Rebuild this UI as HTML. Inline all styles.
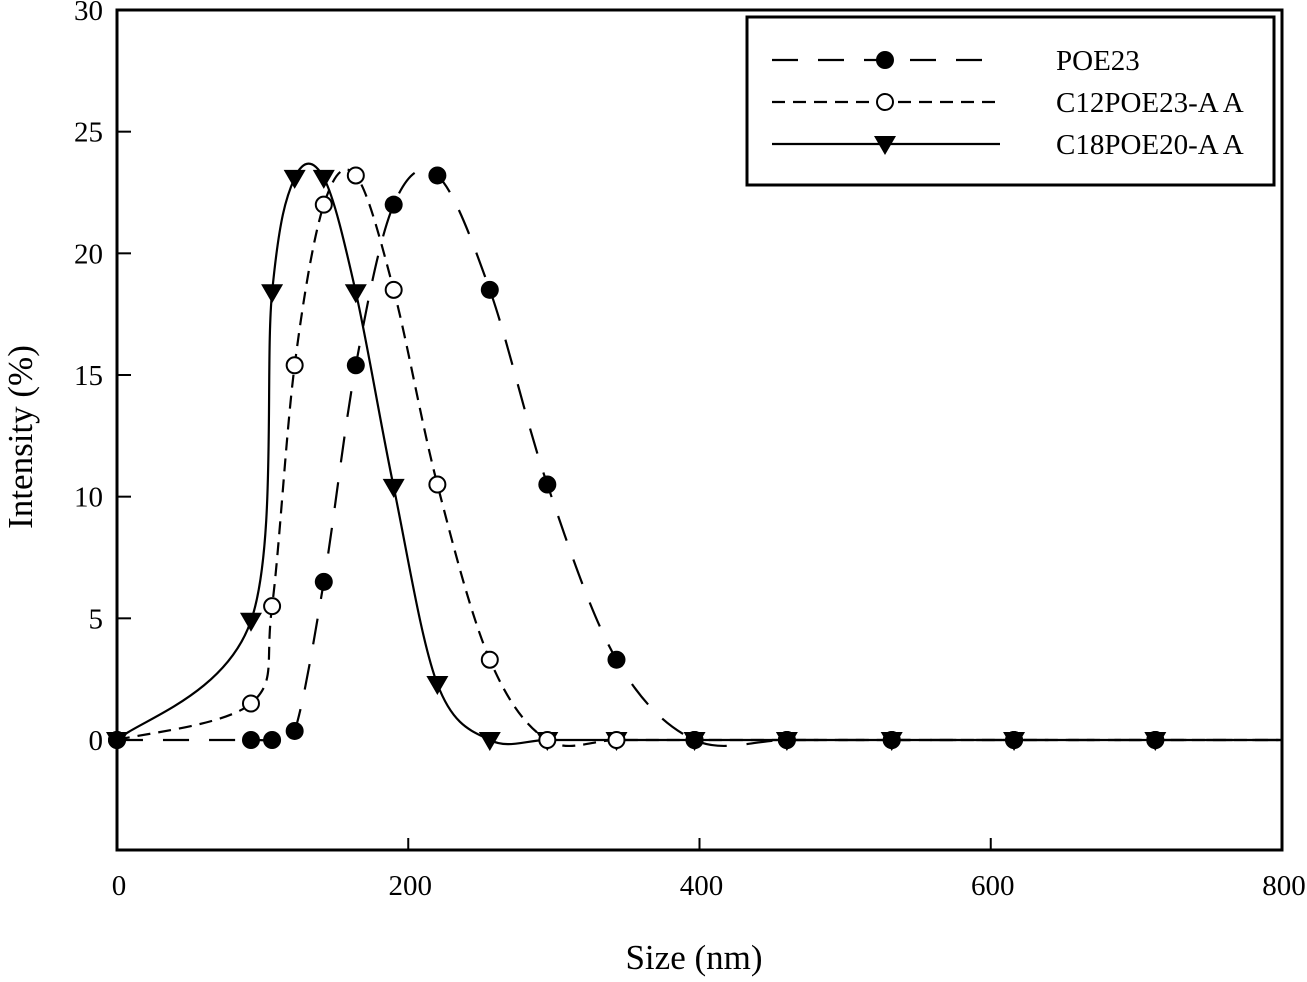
<!DOCTYPE html>
<html><head><meta charset="utf-8"><style>
html,body{margin:0;padding:0;background:#fff;}
svg text{font-family:"Liberation Serif",serif;fill:#000;}
</style></head><body>
<svg id="chart" width="1307" height="977" viewBox="0 0 1307 977"></svg>
<script>
const xTicks=[0,200,400,600,800];
const yTicks=[0,5,10,15,20,25,30];
const sizes=[0,92,106.5,122,142,164,190,220,256,295.5,343,396.6,460,532,616,713];
const poe23=[0,0,0,0.37,6.5,15.4,22.0,23.2,18.5,10.5,3.3,0,0,0,0,0];
const c12=[0,1.5,5.5,15.4,22.0,23.2,18.5,10.5,3.3,0,0,0,0,0,0,0];
const c18=[0,4.9,18.4,23.1,23.1,18.4,10.4,2.3,0,0,0,0,0,0,0,0];
const seriesNames=["POE23","C12POE23-A A","C18POE20-A A"];

const svg=document.getElementById('chart');
const NS='http://www.w3.org/2000/svg';
const X0=117,X1=1282,Y0=740,Ytop=10,Ybot=850;
const xs=v=>X0+(v/800)*(X1-X0);
const ys=v=>Y0-(v/30)*(Y0-Ytop);
function mk(t,a){const e=document.createElementNS(NS,t);for(const k in a)e.setAttribute(k,a[k]);svg.appendChild(e);return e;}

const frame=mk('rect',{x:X0,y:Ytop,width:X1-X0,height:Ybot-Ytop,fill:'none',stroke:'#000','stroke-width':3});



xTicks.forEach(v=>{
  const l=mk('line',{x1:xs(v),x2:xs(v),y1:Ybot,y2:Ybot-12,stroke:'#000','stroke-width':2});
  
  
  const t=mk('text',{x:xs(v)+2,y:895,'text-anchor':'middle','font-size':29});
  t.textContent=v;
  
  
});
yTicks.forEach(v=>{
  const l=mk('line',{x1:X0,x2:X0+14,y1:ys(v),y2:ys(v),stroke:'#000','stroke-width':2});
  
  
  const t=mk('text',{x:103,y:ys(v)+10,'text-anchor':'end','font-size':29});
  t.textContent=v;
  
  
});
const xt=mk('text',{x:694,y:969,'text-anchor':'middle','font-size':35});
xt.textContent='Size (nm)';


const yt=mk('text',{x:0,y:0,'text-anchor':'middle','font-size':35,transform:'translate(32,437) rotate(-90)'});
yt.textContent='Intensity (%)';



function curve(vals,extendTo){
  const p=sizes.map((s,i)=>[xs(s),ys(vals[i])]);
  if(extendTo!==undefined)p.push([xs(extendTo),ys(vals[vals.length-1])]);
  let d='M'+p[0][0]+','+p[0][1];
  for(let i=0;i<p.length-1;i++){
    const a=p[Math.max(0,i-1)],b=p[i],c=p[i+1],e=p[Math.min(p.length-1,i+2)];
    const k=6;
    d+=' C'+(b[0]+(c[0]-a[0])/k)+','+(b[1]+(c[1]-a[1])/k)+' '+(c[0]-(e[0]-b[0])/k)+','+(c[1]-(e[1]-b[1])/k)+' '+c[0]+','+c[1];
  }
  return d;
}
function marker(type,x,y){
  let m;
  if(type==='fill') m=mk('circle',{cx:x,cy:y,r:9,fill:'#000'});
  else if(type==='open') m=mk('circle',{cx:x,cy:y,r:8,fill:'#fff',stroke:'#000','stroke-width':2});
  else m=mk('path',{d:`M${x-11},${y-8} L${x+11},${y-8} L${x},${y+11} Z`,fill:'#000'});
  return m;
}
const defs=[
  {vals:poe23,dash:'26,20',type:'fill',name:'poe23'},
  {vals:c12,dash:'13,8',type:'open',name:'c12poe23-aa'},
  {vals:c18,dash:'none',type:'tri',name:'c18poe20-aa'}
];
defs.forEach((s,si)=>{
  const path=mk('path',{d:curve(s.vals,800),fill:'none',stroke:'#000','stroke-width':2.2,'stroke-dasharray':s.dash});
  
  
});
defs.slice().reverse().forEach(s=>{
  sizes.forEach((v,i)=>{
    const m=marker(s.type,xs(v),ys(s.vals[i]));
    
    
  });
});

const lg=mk('rect',{x:747,y:17,width:527,height:168,fill:'#fff',stroke:'#000','stroke-width':3});


defs.forEach((s,i)=>{
  const y=60+i*42;
  const l=mk('line',{x1:772,x2:1000,y1:y,y2:y,stroke:'#000','stroke-width':2.2,'stroke-dasharray':s.dash});
  
  
  const m=marker(s.type,885,y);
  
  
  const t=mk('text',{x:1056,y:y+10,'font-size':29});
  t.textContent=seriesNames[i];
  
  
});
</script>
</body></html>
